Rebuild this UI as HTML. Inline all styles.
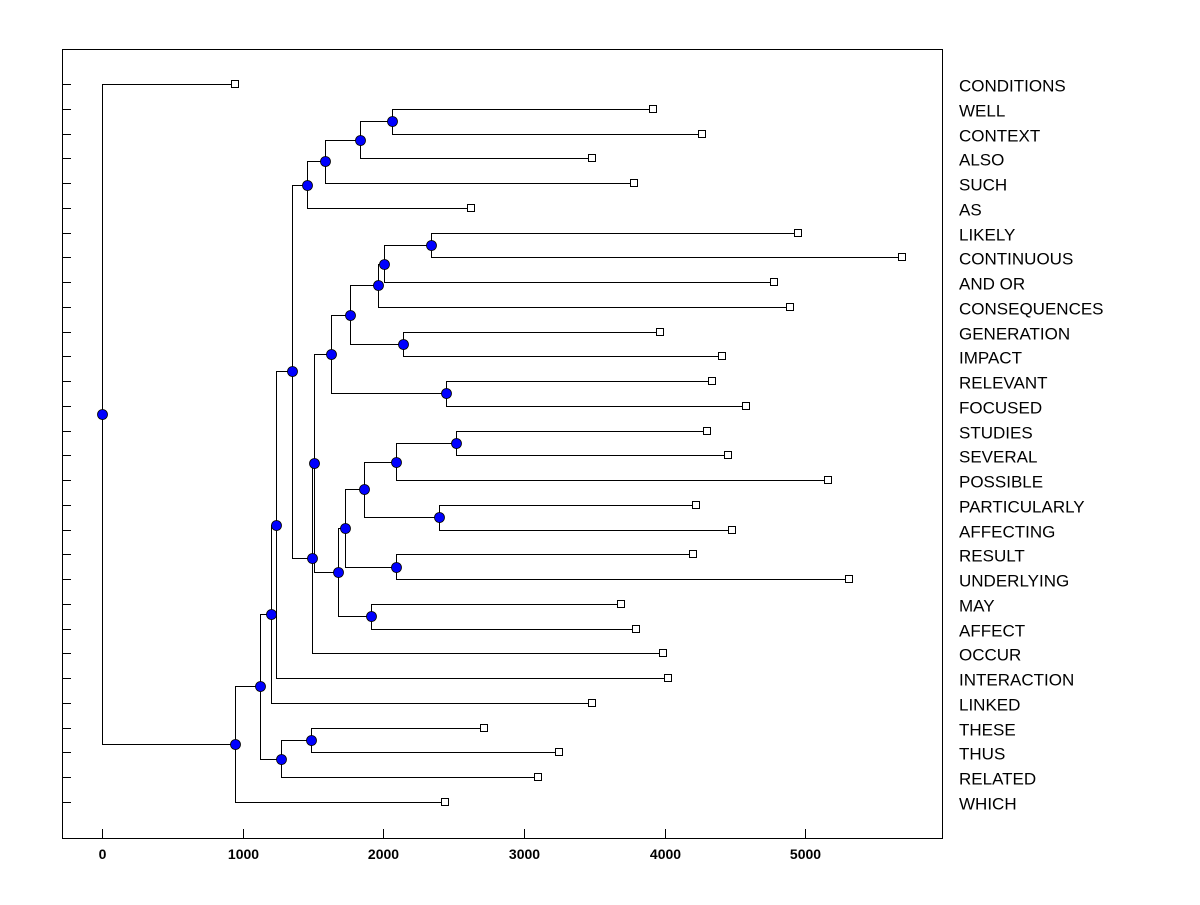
<!DOCTYPE html>
<html><head><meta charset="utf-8"><style>
body{margin:0;background:#fff;}
svg text{font-family:"Liberation Sans",Arial,sans-serif;}
</style></head><body>
<svg id="chart" width="1200" height="900" xmlns="http://www.w3.org/2000/svg">
<rect x="62.5" y="49.5" width="880" height="789" fill="none" stroke="#000" stroke-width="1"/>
<g id="ticks"></g>
<g id="links"></g>
<g id="marks"></g>
<g id="labels"></g>
</svg>
<script>
const leafNames = ["CONDITIONS","WELL","CONTEXT","ALSO","SUCH","AS","LIKELY","CONTINUOUS","AND OR","CONSEQUENCES","GENERATION","IMPACT","RELEVANT","FOCUSED","STUDIES","SEVERAL","POSSIBLE","PARTICULARLY","AFFECTING","RESULT","UNDERLYING","MAY","AFFECT","OCCUR","INTERACTION","LINKED","THESE","THUS","RELATED","WHICH"];
const leafValues = [946,3919,4267,3485,3784,2624,4950,5690,4780,4893,3969,4410,4339,4580,4303,4452,5164,4225,4481,4203,5313,3691,3798,3990,4026,3485,2717,3250,3101,2440];
// merges: [childA, childB, height]; leaves are "L<i>", nodes "N<i>"
const mergeA = ["L1","N0","N1","N2","L6","N4","N5","L10","N6","L12","N8","L14","N11","L17","N12","L19","N14","L21","N16","N10","N19","N3","N21","N22","L26","N24","N23","N26","L0"];
const mergeB = ["L2","L3","L4","L5","L7","L8","L9","L11","N7","L13","N9","L15","L16","L18","N13","L20","N15","L22","N17","N18","L23","N20","L24","L25","L27","L28","N25","L29","N27"];
const mergeHeights = [2063,1835,1586,1458,2340,2006,1963,2141,1764,2447,1629,2518,2091,2397,1863,2091,1728,1913,1678,1505,1494,1351,1238,1202,1487,1273,1124,946,0];
const xTicks = [0,1000,2000,3000,4000,5000];

const NS="http://www.w3.org/2000/svg";
const xs = v => 102 + v*0.14063;
const ys = i => 84 + i*(718/29);
function mk(tag,attrs,parent){const e=document.createElementNS(NS,tag);for(const k in attrs)e.setAttribute(k,attrs[k]);parent.appendChild(e);return e;}
const ticks=document.getElementById('ticks'),links=document.getElementById('links'),marks=document.getElementById('marks'),labels=document.getElementById('labels');

xTicks.forEach(t=>{
  const x=Math.round(xs(t))+0.5;
  const l=mk('line',{x1:x,x2:x,y1:829,y2:838,stroke:'#000'},ticks);
  
  
  const tx=mk('text',{x:x,y:859,'text-anchor':'middle','font-size':'14','font-weight':'bold'},ticks);
  tx.textContent=t;
  
  
});
leafNames.forEach((n,i)=>{
  const y=Math.round(ys(i))+0.5;
  const l=mk('line',{x1:62,x2:71,y1:y,y2:y,stroke:'#000'},ticks);
  
  
  const t=mk('text',{x:959,y:y+7,'font-size':'17'},labels);
  t.textContent=n;
  
  
});
const nodes=[];
function pos(id){const k=+id.slice(1);if(id[0]==='L')return {x:xs(leafValues[k]),y:ys(k)};return nodes[k];}
const nodePts=[];
mergeA.forEach((a,i)=>{
  const pa=pos(a),pb=pos(mergeB[i]);const x=xs(mergeHeights[i]);
  const y=(pa.y+pb.y)/2;nodes.push({x:x,y:y});
  const p=mk('path',{d:`M${pa.x},${Math.round(pa.y)+0.5}H${Math.round(x)+0.5}V${Math.round(pb.y)+0.5}H${pb.x}`,fill:'none',stroke:'#000','stroke-width':1},links);
  
  
  nodePts.push({x:x,y:y});
});
leafNames.forEach((n,i)=>{
  const r=mk('rect',{x:Math.round(xs(leafValues[i]))-3.5,y:Math.round(ys(i))-3.5,width:7,height:7,fill:'#fff',stroke:'#000'},marks);
  
  
});
nodePts.forEach(p=>{
  const c=mk('circle',{cx:Math.round(p.x)+0.5,cy:Math.round(p.y)+0.5,r:5,fill:'#0000ff',stroke:'#000','stroke-width':0.8},marks);
  
  
});
</script>
</body></html>
